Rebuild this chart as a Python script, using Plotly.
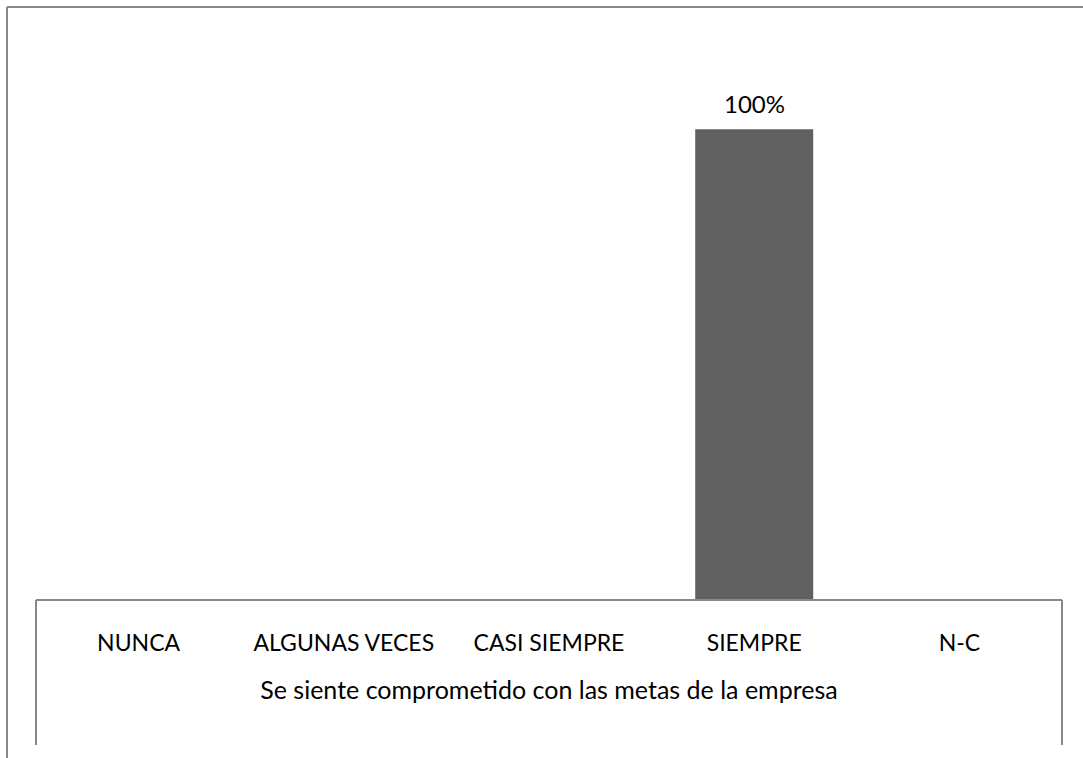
import plotly.graph_objects as go

# --- data ---
categorias = ["NUNCA", "ALGUNAS VECES", "CASI SIEMPRE", "SIEMPRE", "N-C"]
porcentajes = [None, None, None, 100, None]
etiquetas = ["", "", "", "100%", ""]
titulo_eje = "Se siente comprometido con las metas de la empresa"

W, H = 1083, 758
L, R, T, B = 36, 1062, 35, 600  # plot area in px
FONT = "Lato"
GRIS = "#888888"


def px_x(x):
    return (x - L) / (R - L)


def px_y(y):
    return (B - y) / (B - T)


fig = go.Figure()
fig.add_trace(go.Bar(
    x=categorias, y=porcentajes,
    marker=dict(color="#606060", line_width=0), width=0.575,
))

# etiquetas de datos sobre las barras
for cat, val, txt in zip(categorias, porcentajes, etiquetas):
    if val is None:
        continue
    fig.add_annotation(x=cat, y=val, text=txt, showarrow=False, yanchor="middle", yshift=26,
                       font=dict(size=24, family=FONT, color="#000000"))

# marco exterior (solo izquierda y arriba visibles)
fig.add_shape(type="line", xref="paper", yref="paper", x0=px_x(7), y0=px_y(7), x1=px_x(7), y1=px_y(758),
              line=dict(color=GRIS, width=2))
fig.add_shape(type="line", xref="paper", yref="paper", x0=px_x(7), y0=px_y(7), x1=px_x(1083), y1=px_y(7),
              line=dict(color=GRIS, width=2))
# caja de la tabla de categorias
fig.add_shape(type="line", xref="paper", yref="paper", x0=0, y0=0, x1=1, y1=0,
              line=dict(color=GRIS, width=2))
fig.add_shape(type="line", xref="paper", yref="paper", x0=0, y0=0, x1=0, y1=px_y(745),
              line=dict(color=GRIS, width=2))
fig.add_shape(type="line", xref="paper", yref="paper", x0=1, y0=0, x1=1, y1=px_y(745),
              line=dict(color=GRIS, width=2))

fig.update_layout(
    width=W, height=H, autosize=False,
    margin=dict(l=L, r=W - R, t=T, b=H - B),
    paper_bgcolor="white", plot_bgcolor="white",
    showlegend=False, bargap=0.425,
    font=dict(family=FONT, size=23, color="#000000"),
    xaxis=dict(showline=False, ticks="", showgrid=False, ticklabelstandoff=27,
               tickfont=dict(size=23, family=FONT),
               title=dict(text=titulo_eje, standoff=26, font=dict(size=25, family=FONT))),
    yaxis=dict(visible=False, range=[0, 120], showgrid=False),
)

fig.write_html("out.html", config={"displayModeBar": False},
               post_script="document.body.style.margin='0';")
